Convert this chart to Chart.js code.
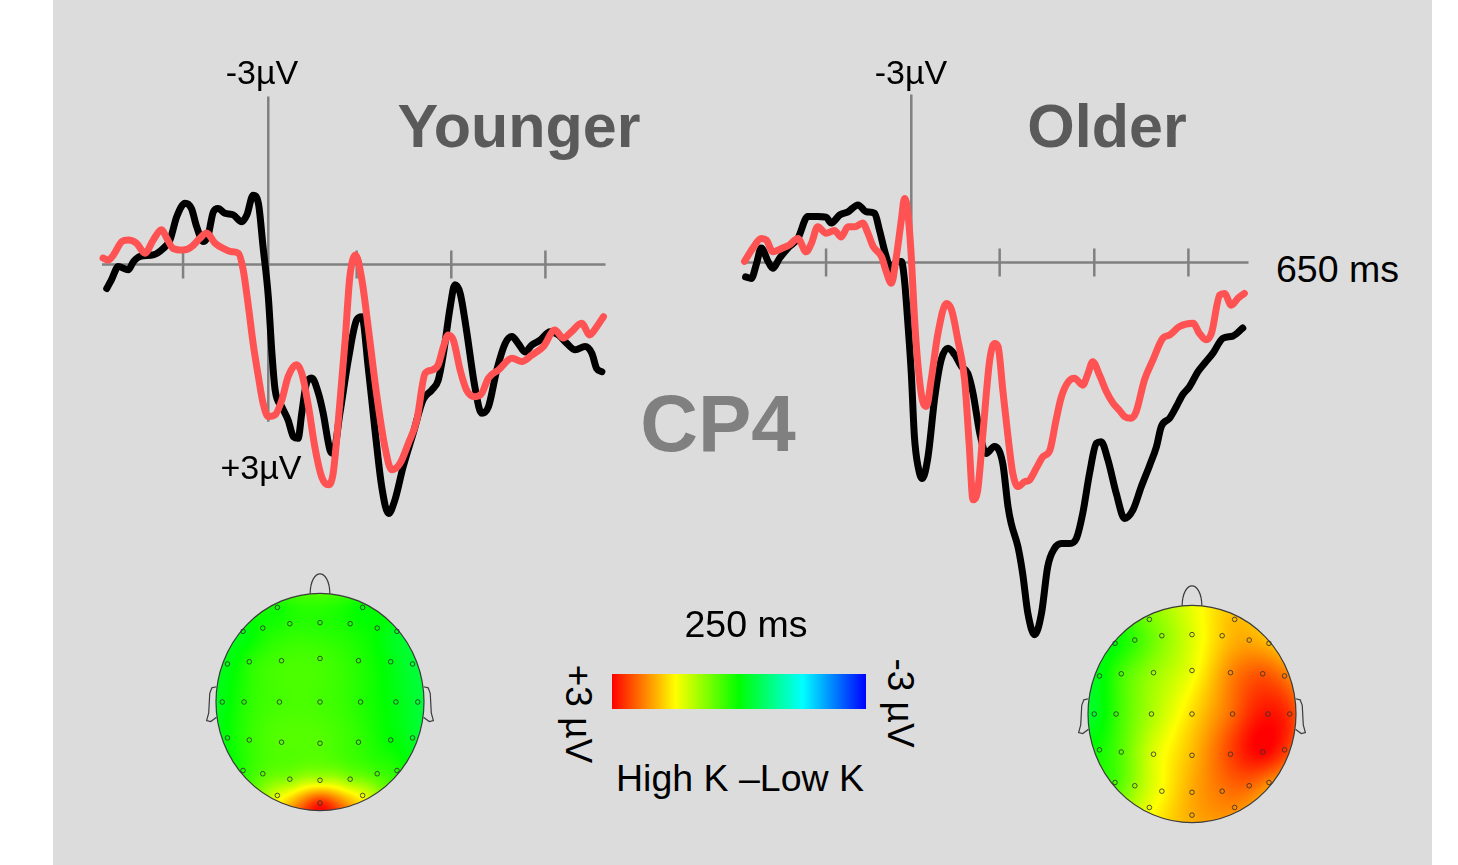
<!DOCTYPE html>
<html>
<head>
<meta charset="utf-8">
<script src="https://cdn.jsdelivr.net/npm/chart.js@4.4.0/dist/chart.umd.min.js"></script>
<style>
  body { margin: 0; width: 1458px; height: 865px; overflow: hidden; position: relative; background: #fff;
         font-family: "Liberation Sans", Arial, sans-serif; }
  #panel { position: absolute; left: 53px; top: 0; width: 1379px; height: 865px; background: #dcdcdc; }
  canvas { position: absolute; }
  .lbl { position: absolute; line-height: 1; white-space: nowrap; color: #000; }
  .mid { transform: translateX(-50%); }
  .title { font-weight: bold; font-size: 61px; color: #5a5a5a; }
  .rot { transform: translate(-50%, -50%) rotate(90deg); font-size: 37px; }
  #colorbar { position: absolute; left: 612px; top: 674px; width: 254px; height: 35px;
              background: linear-gradient(to right, #ff0000 0%, #ffff00 25%, #00ff00 50%, #00ffff 75%, #0000ff 100%); }
</style>
</head>
<body>
<div id="panel"></div>

<canvas id="youngerChart" width="540" height="600" style="left:90px; top:60px"></canvas>
<canvas id="olderChart" width="540" height="600" style="left:733px; top:58px"></canvas>
<canvas id="youngerHead" width="240" height="260" style="left:200px; top:565px"></canvas>
<canvas id="olderHead" width="240" height="260" style="left:1072px; top:577px"></canvas>

<div class="lbl mid" style="left:262px; top:55px; font-size:34px">-3µV</div>
<div class="lbl mid" style="left:911px; top:55px; font-size:34px">-3µV</div>
<div class="lbl mid" style="left:261px; top:450px; font-size:34px">+3µV</div>
<div class="lbl mid title" style="left:519px; top:96px">Younger</div>
<div class="lbl mid title" style="left:1107px; top:96px">Older</div>
<div class="lbl mid" style="left:718px; top:384px; font-size:80px; font-weight:bold; color:#808080">CP4</div>
<div class="lbl" style="left:1276px; top:251px; font-size:37.5px">650 ms</div>
<div class="lbl mid" style="left:746px; top:606px; font-size:37.5px">250 ms</div>
<div class="lbl mid" style="left:740px; top:760px; font-size:37.5px">High K –Low K</div>
<div class="lbl rot" style="left:578px; top:714px">+3 µV</div>
<div class="lbl rot" style="left:900px; top:703px">-3 µV</div>
<div id="colorbar"></div>

<script>
// CP4 waveforms, time in ms, amplitude in µV (negative plotted up)
const youngerBlackTime = [-309, -300, -287, -268, -258, -245, -220, -201, -188, -175, -159, -147, -137, -124, -115,
    -105, -96, -83, -67, -51, -41, -29, -19, -10, 0, 7, 13, 26, 38, 48, 57, 64, 73, 83, 96, 105, 118, 124, 137, 153,
    169, 179, 191, 204, 217, 230, 242, 258, 277, 296, 313, 325, 335, 348, 357, 367, 379, 395, 408, 421, 437, 453, 466,
    478, 491, 504, 520, 539, 555, 571, 587, 606, 619, 628, 638];
const youngerBlackAmp = [0.45, 0.29, 0.04, 0.10, -0.05, -0.15, -0.18, -0.30, -0.46, -0.90, -1.15, -1.05, -0.71, -0.43,
    -0.55, -0.99, -1.05, -0.96, -0.93, -0.80, -0.93, -1.30, -1.15, -0.33, 0.60, 1.67, 2.35, 2.67, 2.92, 3.23, 3.26, 2.79,
    2.23, 2.13, 2.42, 2.79, 3.48, 3.54, 2.79, 1.79, 1.04, 0.98, 1.92, 3.10, 4.17, 4.67, 4.42, 3.79, 3.17, 2.54, 2.35,
    2.17, 1.67, 0.79, 0.38, 0.54, 1.23, 2.29, 2.79, 2.67, 1.98, 1.48, 1.35, 1.48, 1.64, 1.51, 1.42, 1.26, 1.32, 1.48,
    1.60, 1.54, 1.67, 1.95, 2.01];

const youngerRedTime = [-316, -306, -296, -280, -268, -252, -236, -220, -204, -194, -182, -163, -147, -131, -118,
    -102, -86, -70, -57, -48, -38, -29, -19, -10, 0, 13, 26, 38, 54, 64, 77, 89, 102, 115, 124, 134, 147, 156, 167, 179,
    191, 207, 223, 236, 252, 268, 284, 300, 313, 325, 335, 344, 354, 367, 379, 395, 408, 421, 440, 466, 485, 504, 526,
    548, 564, 580, 599, 615, 628, 641];
const youngerRedAmp = [-0.12, -0.08, -0.18, -0.43, -0.46, -0.40, -0.21, -0.46, -0.65, -0.49, -0.30, -0.27, -0.33,
    -0.49, -0.59, -0.40, -0.30, -0.24, -0.21, 0.10, 0.79, 1.48, 2.10, 2.60, 2.85, 2.82, 2.54, 2.10, 1.88, 2.04, 2.67,
    3.42, 3.98, 4.13, 3.92, 2.92, 1.42, 0.23, -0.18, 0.29, 1.17, 2.42, 3.42, 3.85, 3.73, 3.35, 2.92, 2.04, 1.98, 1.88,
    1.54, 1.32, 1.42, 1.98, 2.35, 2.48, 2.42, 2.13, 1.98, 1.76, 1.82, 1.70, 1.54, 1.23, 1.38, 1.26, 1.10, 1.32, 1.17, 0.98];

const olderBlackTime = [-317, -306, -296, -287, -274, -265, -252, -236, -217, -198, -179, -163, -153, -137, -121,
    -102, -86, -70, -61, -48, -38, -29, -19, -13, -7, 0, 6, 13, 21, 32, 45, 57, 70, 83, 96, 108, 118, 131, 143, 159,
    175, 185, 191, 204, 213, 223, 236, 249, 261, 274, 287, 303, 316, 328, 341, 354, 363, 376, 392, 408, 424, 440, 456,
    469, 478, 494, 507, 519, 532, 548, 561, 577, 596, 615, 634];
const olderBlackAmp = [0.27, 0.30, 0.02, -0.27, -0.02, 0.11, -0.08, -0.27, -0.45, -0.86, -0.86, -0.85, -0.74, -0.89,
    -0.95, -1.08, -0.95, -0.92, -0.61, -0.11, 0.14, -0.02, -0.02, 0.33, 1.08, 2.08, 3.27, 3.83, 4.05, 3.64, 2.52, 1.83,
    1.61, 1.73, 1.95, 2.08, 2.45, 3.20, 3.58, 3.45, 3.77, 4.58, 4.89, 5.33, 5.83, 6.58, 6.98, 6.58, 5.70, 5.36, 5.27,
    5.27, 5.17, 4.70, 3.95, 3.39, 3.36, 3.70, 4.33, 4.80, 4.64, 4.20, 3.80, 3.45, 3.08, 2.92, 2.70, 2.48, 2.33, 2.05,
    1.89, 1.70, 1.42, 1.38, 1.23];

const olderRedTime = [-319, -303, -287, -277, -265, -246, -233, -217, -201, -191, -179, -163, -147, -134, -121, -108,
    -93, -83, -73, -57, -48, -38, -29, -19, -13, -7, 0, 6, 13, 22, 29, 38, 51, 67, 77, 89, 102, 111, 118, 127, 137, 150,
    159, 166, 175, 185, 194, 204, 217, 226, 239, 252, 265, 277, 287, 300, 312, 328, 338, 347, 360, 373, 386, 398, 408,
    421, 430, 446, 462, 481, 494, 513, 539, 551, 564, 574, 590, 599, 612, 625, 637];
const olderRedAmp = [-0.02, -0.27, -0.45, -0.42, -0.20, -0.27, -0.33, -0.45, -0.20, -0.36, -0.67, -0.55, -0.60, -0.48,
    -0.67, -0.67, -0.74, -0.55, -0.30, -0.11, 0.17, 0.39, -0.08, -0.80, -1.20, -0.98, -0.11, 1.02, 1.95, 2.61, 2.70,
    2.20, 1.33, 0.77, 0.89, 1.45, 2.20, 3.45, 4.45, 4.27, 3.20, 1.83, 1.52, 1.58, 2.39, 3.27, 3.95, 4.20, 4.11, 4.08,
    3.86, 3.64, 3.52, 2.95, 2.52, 2.24, 2.17, 2.30, 2.08, 1.86, 2.11, 2.42, 2.64, 2.77, 2.89, 2.92, 2.80, 2.20, 1.83,
    1.42, 1.36, 1.20, 1.14, 1.33, 1.45, 1.33, 0.61, 0.58, 0.80, 0.67, 0.58];

// time axis tick marks (ms) and axis extents
const tickTimes = [-163, 169, 350, 530];
const timeAxisStart = -318;
const timeAxisEnd = 645;
const ampAxisTop = -3.15;
const ampAxisBottom = 2.95;

// electrode layout (unit head radius, nose up) and 250 ms difference values (µV)
const electrodeX = [-0.41, 0.41, -0.74, -0.55, -0.29, 0, 0.29, 0.55, 0.74, -0.89, -0.68, -0.37, 0, 0.37, 0.68, 0.89,
    -0.94, -0.73, -0.39, 0, 0.39, 0.73, 0.94, -0.89, -0.68, -0.37, 0, 0.37, 0.68, 0.89, -0.74, -0.55, -0.29, 0, 0.29,
    0.55, 0.74, -0.41, 0, 0.41];
const electrodeY = [0.87, 0.87, 0.65, 0.68, 0.72, 0.73, 0.72, 0.68, 0.65, 0.35, 0.37, 0.38, 0.40, 0.38, 0.37, 0.35,
    0, 0, 0, 0, 0, 0, 0, -0.33, -0.35, -0.37, -0.38, -0.37, -0.35, -0.33, -0.63, -0.66, -0.71, -0.72, -0.71, -0.66, -0.63,
    -0.86, -0.93, -0.86];
const youngerTopo = [0.1, 0.0, -0.1, 0.1, 0.2, 0.2, 0.1, 0.0, -0.2, -0.1, 0.2, 0.4, 0.4, 0.2, -0.1, -0.3,
    -0.1, 0.2, 0.4, 0.4, 0.2, -0.1, -0.3, 0.0, 0.3, 0.5, 0.5, 0.3, 0.0, -0.2, 0.2, 0.5, 0.8, 1.1, 0.8, 0.4, 0.2,
    1.3, 2.8, 1.4];
const olderTopo = [0.7, 1.9, 0.0, 0.3, 0.8, 1.3, 1.8, 2.0, 1.9, -0.1, 0.4, 0.9, 1.4, 2.2, 2.5, 2.3,
    -0.2, 0.3, 1.0, 1.7, 2.4, 2.9, 2.7, 0.1, 0.5, 1.3, 1.9, 2.6, 3.0, 2.7, 0.4, 0.9, 1.5, 2.0, 2.3, 2.4, 2.2,
    1.4, 2.0, 2.2];
const topoRange = 3;

function toPoints(xs, ys) {
    return xs.map((x, i) => ({x: x, y: ys[i]}));
}

const erpAxes = {
    id: 'erpAxes',
    beforeDatasetsDraw(chart) {
        const {ctx, scales: {x, y}} = chart;
        const x0 = x.getPixelForValue(0);
        const y0 = y.getPixelForValue(0);
        ctx.save();
        ctx.strokeStyle = '#808080';
        ctx.lineWidth = 2.5;
        ctx.beginPath();
        ctx.moveTo(x.getPixelForValue(timeAxisStart), y0);
        ctx.lineTo(x.getPixelForValue(timeAxisEnd), y0);
        ctx.moveTo(x0, y.getPixelForValue(ampAxisTop));
        ctx.lineTo(x0, y.getPixelForValue(ampAxisBottom));
        for (const t of tickTimes) {
            const px = x.getPixelForValue(t);
            ctx.moveTo(px, y0 - 14);
            ctx.lineTo(px, y0 + 14);
        }
        ctx.stroke();
        ctx.restore();
    }
};

function erpChart(id, blackT, blackA, redT, redA) {
    const line = (data, color, order) => ({
        data: data,
        borderColor: color,
        borderWidth: 7,
        pointRadius: 0,
        cubicInterpolationMode: 'monotone',
        borderJoinStyle: 'round',
        borderCapStyle: 'round',
        order: order
    });
    return new Chart(document.getElementById(id), {
        type: 'line',
        data: {
            datasets: [
                line(toPoints(redT, redA), '#ff5252', 1),
                line(toPoints(blackT, blackA), '#000000', 2)
            ]
        },
        options: {
            responsive: false,
            animation: false,
            events: [],
            layout: {padding: 0, autoPadding: false},
            plugins: {legend: {display: false}, tooltip: {enabled: false}},
            scales: {
                x: {type: 'linear', min: -341, max: 691.8, display: false},
                y: {type: 'linear', min: -3.834, max: 7.416, reverse: true, display: false}
            }
        },
        plugins: [erpAxes]
    });
}

function jet(v) {
    const f = Math.min(1, Math.max(0, (topoRange - v) / (2 * topoRange)));
    if (f < 0.25) return [255, 255 * f / 0.25, 0];
    if (f < 0.5) return [255 * (0.5 - f) / 0.25, 255, 0];
    if (f < 0.75) return [0, 255, 255 * (f - 0.5) / 0.25];
    return [0, 255 * (1 - f) / 0.25, 255];
}

// biharmonic spline (griddata 'v4' style) through the electrode values
function green(d2) {
    if (d2 < 1e-12) return 0;
    return d2 * (0.5 * Math.log(d2) - 1);
}

function solve(A, b) {
    const n = b.length;
    const M = A.map((row, i) => row.concat([b[i]]));
    for (let c = 0; c < n; c++) {
        let piv = c;
        for (let r = c + 1; r < n; r++) if (Math.abs(M[r][c]) > Math.abs(M[piv][c])) piv = r;
        [M[c], M[piv]] = [M[piv], M[c]];
        for (let r = c + 1; r < n; r++) {
            const f = M[r][c] / M[c][c];
            for (let k = c; k <= n; k++) M[r][k] -= f * M[c][k];
        }
    }
    const w = new Array(n).fill(0);
    for (let r = n - 1; r >= 0; r--) {
        let s = M[r][n];
        for (let k = r + 1; k < n; k++) s -= M[r][k] * w[k];
        w[r] = s / M[r][r];
    }
    return w;
}

const scalpMap = {
    id: 'scalpMap',
    beforeDatasetsDraw(chart) {
        const {ctx, scales: {x, y}} = chart;
        const pts = chart.data.datasets[0].data;
        const wts = solve(pts.map(p => pts.map(q => green((p.x - q.x) ** 2 + (p.y - q.y) ** 2))), pts.map(p => p.v));
        const cx = x.getPixelForValue(0), cy = y.getPixelForValue(0);
        const rx = x.getPixelForValue(1) - cx, ry = cy - y.getPixelForValue(1);
        const left = Math.floor(cx - rx), top = Math.floor(cy - ry);
        const w = Math.ceil(2 * rx) + 2, h = Math.ceil(2 * ry) + 2;
        const off = document.createElement('canvas');
        off.width = w;
        off.height = h;
        const octx = off.getContext('2d');
        const img = octx.createImageData(w, h);
        for (let j = 0; j < h; j++) {
            for (let i = 0; i < w; i++) {
                const nx = (left + i + 0.5 - cx) / rx;
                const ny = (cy - (top + j + 0.5)) / ry;
                if (nx * nx + ny * ny > 1) continue;
                let v = 0;
                pts.forEach((p, k) => { v += wts[k] * green((nx - p.x) ** 2 + (ny - p.y) ** 2); });
                const c = jet(v);
                const k = 4 * (j * w + i);
                img.data[k] = c[0];
                img.data[k + 1] = c[1];
                img.data[k + 2] = c[2];
                img.data[k + 3] = 255;
            }
        }
        octx.putImageData(img, 0, 0);
        ctx.drawImage(off, left, top);

        const px = v => x.getPixelForValue(v);
        const py = v => y.getPixelForValue(v);
        ctx.save();
        ctx.strokeStyle = '#3c3c3c';
        ctx.lineWidth = 1.2;
        ctx.beginPath();
        ctx.ellipse(cx, cy, rx, ry, 0, 0, 2 * Math.PI);
        ctx.stroke();
        // nose
        ctx.beginPath();
        ctx.moveTo(px(-0.095), py(0.995));
        ctx.bezierCurveTo(px(-0.09), py(1.24), px(0.09), py(1.24), px(0.095), py(0.995));
        ctx.stroke();
        // ears
        for (const s of [-1, 1]) {
            ctx.beginPath();
            ctx.moveTo(px(s * 0.995), py(0.14));
            ctx.lineTo(px(s * 1.04), py(0.13));
            ctx.lineTo(px(s * 1.06), py(0.08));
            ctx.lineTo(px(s * 1.07), py(-0.10));
            ctx.lineTo(px(s * 1.09), py(-0.17));
            ctx.lineTo(px(s * 1.05), py(-0.18));
            ctx.lineTo(px(s * 0.995), py(-0.14));
            ctx.stroke();
        }
        ctx.restore();
    }
};

function headChart(id, values) {
    return new Chart(document.getElementById(id), {
        type: 'scatter',
        data: {
            datasets: [{
                data: electrodeX.map((ex, i) => ({x: ex, y: electrodeY[i], v: values[i]})),
                pointRadius: 2.3,
                pointBorderWidth: 1,
                pointBorderColor: 'rgba(50,50,50,0.85)',
                pointBackgroundColor: 'rgba(0,0,0,0)'
            }]
        },
        options: {
            responsive: false,
            animation: false,
            events: [],
            layout: {padding: 0, autoPadding: false},
            plugins: {legend: {display: false}, tooltip: {enabled: false}},
            scales: {
                x: {type: 'linear', min: -1.1538, max: 1.1538, display: false},
                y: {type: 'linear', min: -1.1316, max: 1.2603, display: false}
            }
        },
        plugins: [scalpMap]
    });
}

erpChart('youngerChart', youngerBlackTime, youngerBlackAmp, youngerRedTime, youngerRedAmp);
erpChart('olderChart', olderBlackTime, olderBlackAmp, olderRedTime, olderRedAmp);
headChart('youngerHead', youngerTopo);
headChart('olderHead', olderTopo);
</script>
</body>
</html>
